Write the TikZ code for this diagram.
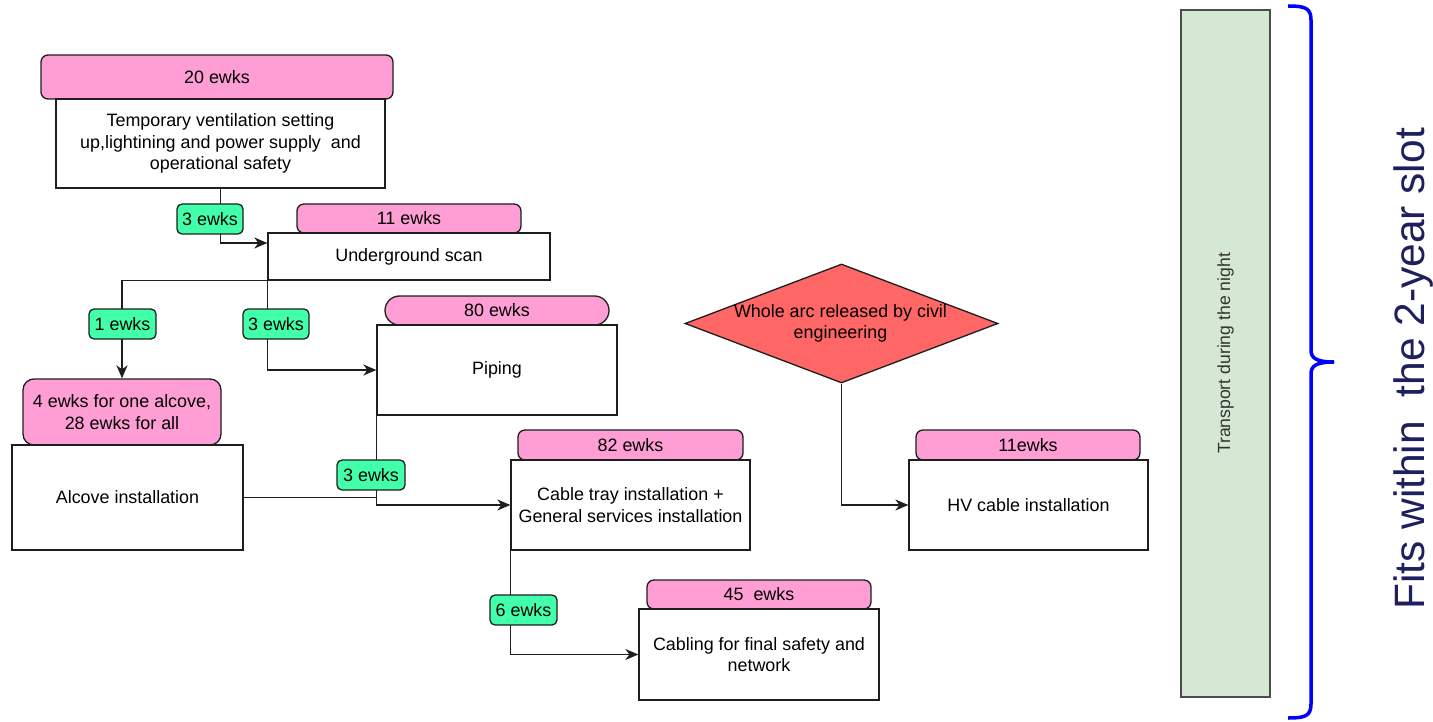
\documentclass[tikz,border=0pt]{standalone}
\usepackage{fontspec}
\setmainfont{Liberation Sans}
\usetikzlibrary{arrows.meta,shapes.geometric,calc}
\definecolor{pinkfill}{RGB}{255,158,212}
\definecolor{greenfill}{RGB}{66,255,170}
\definecolor{redfill}{RGB}{255,102,102}
\definecolor{transfill}{RGB}{213,232,212}
\definecolor{navy}{RGB}{30,32,94}
\definecolor{edge}{RGB}{30,30,30}
\begin{document}
\begin{tikzpicture}[x=1pt,y=-1pt,
  txt/.style={font=\fontsize{17.9}{21.5}\selectfont, text=black, align=center},
  box/.style={txt, draw=edge, line width=1.3pt, fill=white, inner sep=0pt},
  pinkbox/.style={box, fill=pinkfill, rounded corners=7pt},
  greenbox/.style={box, fill=greenfill, rounded corners=5pt},
  arr/.style={draw=edge, line width=1.4pt, -{Stealth[length=13pt,width=11pt,inset=4pt]}},
  conn/.style={draw=edge, line width=1.4pt}
]
\useasboundingbox (0,0) rectangle (1433,722);

% task boxes with duration headers
\node[pinkbox, minimum width=352pt, minimum height=44pt] (p20) at (217,77) {20 ewks};
\node[box, minimum width=329pt, minimum height=89pt] (temp) at (220.5,143.5) {Temporary ventilation setting\\up,lightining and power supply\ \ and\\operational safety};

\node[pinkbox, minimum width=224pt, minimum height=29pt] (p11) at (409,218.5) {11 ewks};
\node[box, minimum width=282pt, minimum height=47pt] (scan) at (409,256.5) {Underground scan};

\node[pinkbox, rounded corners=14.5pt, minimum width=224pt, minimum height=29pt] (p80) at (497,310.5) {80 ewks};
\node[box, minimum width=240pt, minimum height=90pt] (piping) at (497,370) {Piping};

\node[pinkbox, rounded corners=11pt, minimum width=198pt, minimum height=66pt] (palc) at (122,412) {4 ewks for one alcove,\\28 ewks for all};
\node[box, minimum width=231pt, minimum height=105pt] (alcove) at (127.5,497.5) {Alcove installation};

\node[pinkbox, minimum width=225pt, minimum height=30pt] (p82) at (630.5,445) {82 ewks};
\node[box, minimum width=239pt, minimum height=90pt] (cable) at (630.5,505) {Cable tray installation +\\General services installation};

\node[pinkbox, minimum width=224pt, minimum height=29pt] (p45) at (759,594.5) {45\ \ ewks};
\node[box, minimum width=240pt, minimum height=91pt] (cabling) at (759,654.5) {Cabling for final safety and\\network};

\node[diamond, draw=edge, line width=1.3pt, fill=redfill, inner sep=0pt, minimum width=313pt, minimum height=119pt] (dia) at (841.5,323.5) {};
\node[txt] (diatext) at (840.5,323.5) {Whole arc released by civil\\engineering};

\node[pinkbox, minimum width=224pt, minimum height=30pt] (p11b) at (1028,445) {11ewks};
\node[box, minimum width=239pt, minimum height=90pt] (hv) at (1028.5,505) {HV cable installation};

% transport bar
\node[draw=black!70, line width=1.3pt, fill=transfill, rotate=90, minimum width=687pt, minimum height=89pt, inner sep=0pt,
      font=\fontsize{17.6}{20}\selectfont, text=black!80] (trans) at (1225.5,353.5) {Transport during the night};

% connectors
\draw[arr] (temp.south) |- ([yshift=13.5pt]scan.west);
\draw[arr] (scan.south west) -| (palc.north);
\draw[arr] (scan.south west) |- (piping.west);
\draw[arr] (piping.south west) |- (cable.west);
\draw[conn] (alcove.east) -- (piping.south west |- alcove.east);
\draw[arr] (cable.south west) |- (cabling.west);
\draw[arr] (dia.south) |- (hv.west);

% lag labels
\node[greenbox, minimum width=66pt, minimum height=30pt] (g1) at (210,219) {3 ewks};
\node[greenbox, minimum width=67pt, minimum height=30pt] (g2) at (122.5,324) {1 ewks};
\node[greenbox, minimum width=66pt, minimum height=30pt] (g3) at (276,324) {3 ewks};
\node[greenbox, minimum width=68pt, minimum height=30pt] (g4) at (371,475) {3 ewks};
\node[greenbox, minimum width=67pt, minimum height=30pt] (g5) at (523.5,610) {6 ewks};

% brace
\coordinate (btop) at (1288,6);
\coordinate (btip) at (1334,362);
\coordinate (bbot) at (1288,718);
\draw[blue, line width=3.5pt, line cap=butt]
  (btop) .. controls (1305,6) and (1311,8) .. (1311,20) -- (1311,350)
  .. controls (1311,358) and (1316,362) .. (btip);
\draw[blue, line width=3.5pt, line cap=butt]
  (btip) .. controls (1316,362) and (1311,366) .. (1311,374) -- (1311,704)
  .. controls (1311,716) and (1305,718) .. (bbot);

% slot text
\node[rotate=90, text=navy, font=\fontsize{42.5}{48}\selectfont, inner sep=0pt] (slot) at (1413.5,369) {Fits within\ \ the 2-year slot};
\end{tikzpicture}
\end{document}
